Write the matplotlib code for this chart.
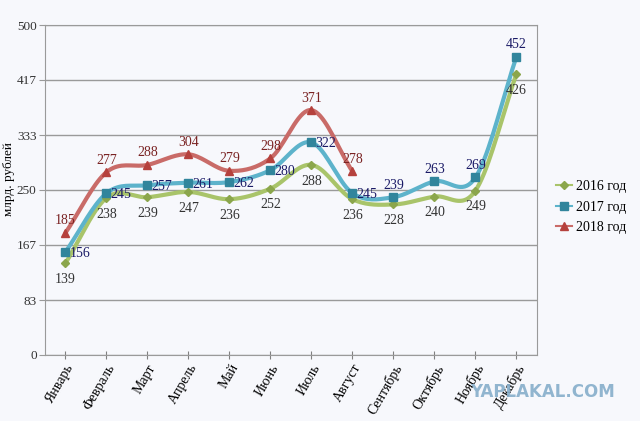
import numpy as np
import matplotlib.pyplot as plt

# data
months = ['Январь', 'Февраль', 'Март', 'Апрель', 'Май', 'Июнь', 'Июль',
          'Август', 'Сентябрь', 'Октябрь', 'Ноябрь', 'Декабрь']
y2016 = [139, 238, 239, 247, 236, 252, 288, 236, 228, 240, 249, 426]
y2017 = [156, 245, 257, 261, 262, 280, 322, 245, 239, 263, 269, 452]
y2018 = [185, 277, 288, 304, 279, 298, 371, 278]
yticks = [0, 83, 167, 250, 333, 417, 500]

plt.rcParams['font.family'] = ['Liberation Serif', 'DejaVu Serif']

BG = '#f7f8fc'


def smooth(x, y, n=20):
    # Catmull-Rom spline through the points (like spreadsheet "smoothed line")
    x = np.asarray(x, float)
    y = np.asarray(y, float)
    px = np.concatenate([[2 * x[0] - x[1]], x, [2 * x[-1] - x[-2]]])
    py = np.concatenate([[2 * y[0] - y[1]], y, [2 * y[-1] - y[-2]]])
    xs, ys = [], []
    t = np.linspace(0, 1, n)
    for i in range(1, len(px) - 2):
        for p, out in ((px, xs), (py, ys)):
            p0, p1, p2, p3 = p[i - 1], p[i], p[i + 1], p[i + 2]
            m1 = (p2 - p0) / 2
            m2 = (p3 - p1) / 2
            h00 = 2 * t**3 - 3 * t**2 + 1
            h10 = t**3 - 2 * t**2 + t
            h01 = -2 * t**3 + 3 * t**2
            h11 = t**3 - t**2
            out.extend(h00 * p1 + h10 * m1 + h01 * p2 + h11 * m2)
    return np.array(xs), np.array(ys)


fig = plt.figure(figsize=(6.4, 4.21), dpi=100, facecolor=BG)
ax = fig.add_axes([0.0703, 0.157, 0.7687, 0.7836], facecolor=BG)

series = [
    ('2016 год', y2016, '#a9c46a', '#8ba64c', 'D', 4.5, '#333333'),
    ('2017 год', y2017, '#5db3cb', '#31859c', 's', 5.5, '#1a1a66'),
    ('2018 год', y2018, '#c96b68', '#b5413d', '^', 6, '#7a2323'),
]

handles = []
for name, vals, lc, mc, mk, ms, tc in series:
    xi = np.arange(len(vals))
    sx, sy = smooth(xi, vals)
    ax.plot(sx, sy, color=lc, lw=3, solid_capstyle='round', zorder=3)
    ax.plot(xi, vals, ls='none', marker=mk, ms=ms, color=mc, zorder=4)
    h, = ax.plot([], [], color=lc, lw=1.5, marker=mk, ms=ms, mfc=mc, mec=mc)
    handles.append(h)

# value labels
fs = 10
for i, v in enumerate(y2016):
    ax.annotate(str(v), (i, v), xytext=(0, -7), textcoords='offset points',
                ha='center', va='top', fontsize=fs, color='#333333', zorder=5)
for i, v in enumerate(y2017):
    if i < 8:
        ax.annotate(str(v), (i, v), xytext=(3, -1), textcoords='offset points',
                    ha='left', va='center', fontsize=fs, color='#1a1a66', zorder=5)
    else:
        ax.annotate(str(v), (i, v), xytext=(0, 4), textcoords='offset points',
                    ha='center', va='bottom', fontsize=fs, color='#1a1a66', zorder=5)
for i, v in enumerate(y2018):
    ax.annotate(str(v), (i, v), xytext=(0, 4), textcoords='offset points',
                ha='center', va='bottom', fontsize=fs, color='#7a2323', zorder=5)

ax.set_xlim(-0.5, len(months) - 0.5)
ax.set_ylim(0, 500)
ax.set_yticks(yticks)
ax.set_yticklabels([str(t) for t in yticks])
ax.set_xticks(np.arange(len(months)))
ax.set_xticklabels(months, rotation=60, ha='right', rotation_mode='anchor')
ax.grid(axis='y', color='#9a9a9a', lw=1)
ax.set_axisbelow(True)
for s in ax.spines.values():
    s.set_color('#9a9a9a')
ax.tick_params(axis='x', direction='inout', length=6, color='#808080',
               labelsize=10, pad=2)
ax.tick_params(axis='y', direction='out', length=4, color='#9a9a9a',
               labelsize=9.5, labelcolor='#333333', pad=2)

fig.text(0.014, 0.575, 'млрд. рублей', rotation=90, ha='center', va='center',
         fontsize=9.5)

fig.legend(handles, [s[0] for s in series], loc='center left',
           bbox_to_anchor=(0.868, 0.508), frameon=False, fontsize=10,
           handlelength=1.2, handletextpad=0.3, labelspacing=0.55,
           borderaxespad=0, borderpad=0)

fig.text(0.96, 0.07, 'YAPLAKAL.COM', ha='right', va='center',
         fontsize=12, fontweight='bold', color='#86aecb',
         family=['DejaVu Sans'], alpha=0.9)

fig.savefig('out.png', dpi=100, facecolor=BG)
